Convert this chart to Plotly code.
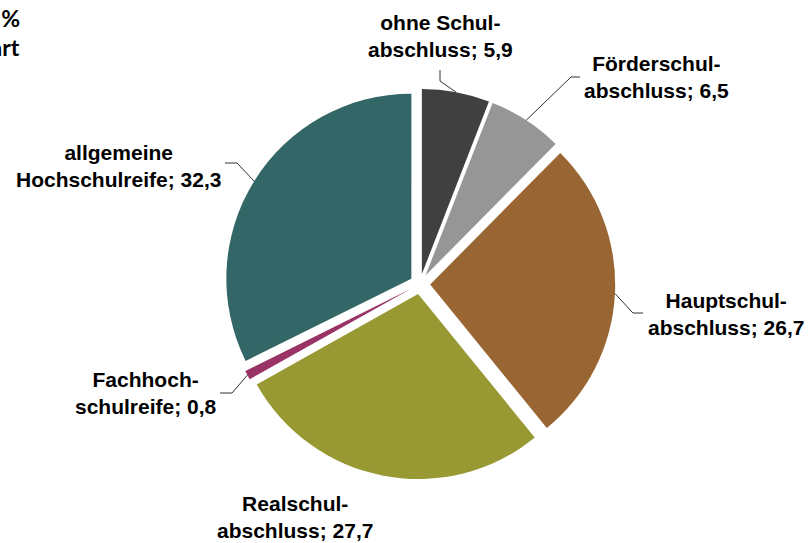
import math
import plotly.graph_objects as go

# data (share in %)
labels = [
    "ohne Schul-<br>abschluss",
    "Förderschul-<br>abschluss",
    "Hauptschul-<br>abschluss",
    "Realschul-<br>abschluss",
    "Fachhoch-<br>schulreife",
    "allgemeine<br>Hochschulreife",
]
values = [5.9, 6.5, 26.7, 27.7, 0.8, 32.3]
colors = ["#404040", "#969696", "#996633", "#999933", "#993366", "#336666"]

# label placement (pixel centres) and leader elbows/ends, in pixels
label_pos = [(440, 36), (656, 77), (726, 314), (295, 517), (146, 393), (118, 166)]
leader_pts = [
    [(440, 81), (440, 70)],
    [(571, 77), (580, 77)],
    [(633, 313), (643, 313)],
    None,
    [(232, 393), (220, 393)],
    [(237, 163), (225, 163)],
]

W, H = 809, 543
CX, CY, R, PULL = 420, 284, 185, 0.055


def px(x, y):
    return x / W, 1 - y / H


box = R * 2 * (1 + PULL)
dom_y = [1 - (CY + box / 2) / H, 1 - (CY - box / 2) / H]
dom_x = [CX / W - 0.28, CX / W + 0.28]

fig = go.Figure(
    go.Pie(
        labels=labels,
        values=values,
        sort=False,
        direction="clockwise",
        rotation=0,
        pull=[PULL] * len(values),
        marker=dict(colors=colors, line=dict(width=0)),
        textinfo="none",
        hoverinfo="label+value",
        domain=dict(x=dom_x, y=dom_y),
        showlegend=False,
    )
)

total = sum(values)
cum = 0
shapes = []
annotations = []
for i, v in enumerate(values):
    mid = (cum + v / 2) / total * 2 * math.pi
    cum += v
    sx, sy = math.sin(mid), -math.cos(mid)
    ox, oy = CX + sx * R * PULL, CY + sy * R * PULL
    ax, ay = ox + sx * R, oy + sy * R
    txt = "<b>" + labels[i].replace("<br>", "</b><br><b>") + "; " + f"{v:.1f}".replace(".", ",") + "</b>"
    lx, ly = label_pos[i]
    annotations.append(
        dict(
            x=px(lx, ly)[0], y=px(lx, ly)[1], xref="paper", yref="paper",
            text=txt, showarrow=False, xanchor="center", yanchor="middle",
            font=dict(family="Liberation Sans, Arial", size=21, color="#000000"),
        )
    )
    if leader_pts[i]:
        pts = [(ax, ay)] + leader_pts[i]
        path = "M " + " L ".join(f"{px(x, y)[0]},{px(x, y)[1]}" for x, y in pts)
        shapes.append(
            dict(type="path", path=path, xref="paper", yref="paper",
                 line=dict(color="#303030", width=1))
        )

# title, cut off at the left edge in the reference
for t, y in [("Absolventen und Abgänger in %", 18), ("nach Abschlussart", 47)]:
    annotations.append(
        dict(
            x=px(22, y)[0], y=px(22, y)[1], xref="paper", yref="paper",
            text="<b>" + t + "</b>", showarrow=False, xanchor="right", yanchor="middle",
            font=dict(family="Lato, Open Sans", size=23, color="#000000"),
        )
    )

fig.update_layout(
    width=W, height=H,
    margin=dict(l=0, r=0, t=0, b=0),
    paper_bgcolor="white", plot_bgcolor="white",
    shapes=shapes, annotations=annotations,
)
fig.write_html(
    "out.html",
    config={"displayModeBar": False},
    post_script="document.body.style.margin='0';",
)
